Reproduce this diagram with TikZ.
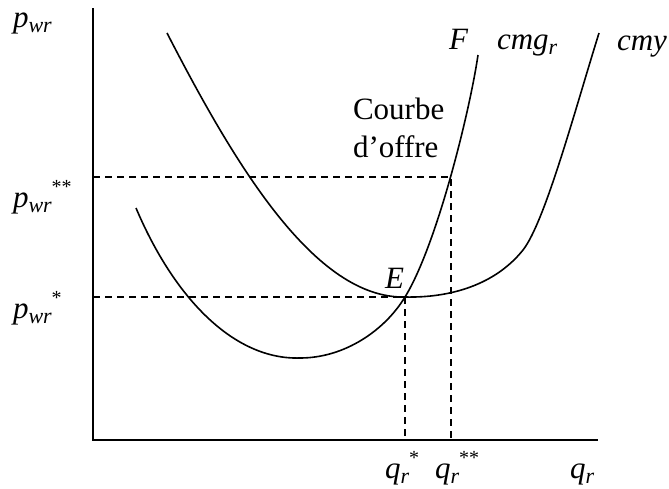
\documentclass[tikz,border=0pt]{standalone}
\usepackage{fontspec}
\setmainfont{Liberation Serif}
\newcommand\lsub[1]{\raisebox{-0.17em}{\fontsize{22}{22}\selectfont\itshape #1}}
\newcommand\lsup[1]{\raisebox{0.45em}{\fontsize{20}{20}\selectfont #1}}
\begin{document}
\begin{tikzpicture}[x=1pt,y=-1pt,
  every node/.style={inner sep=0pt,outer sep=0pt,font=\fontsize{31}{37}\selectfont},
  axisline/.style={line width=1.6pt},
  curveline/.style={line width=1.6pt},
  guide/.style={line width=1.5pt,dash pattern=on 7pt off 5pt}]
\useasboundingbox (0,0) rectangle (669,488);
% axes
\coordinate (O) at (93,440);
\coordinate (ytop) at (93,8);
\coordinate (xend) at (598,440);
\draw[axisline] (ytop) -- (O) -- (xend);
% key points
\coordinate (E) at (405,297);
\coordinate (Fp) at (451,177);
\coordinate (ps) at (93,297);
\coordinate (pss) at (93,177);
\coordinate (qs) at (405,440);
\coordinate (qss) at (451,440);
% guides
\draw[guide] (pss) -- (Fp) -- (qss);
\draw[guide] (ps) -- (E) -- (qs);
% cmg_r (supply curve above E)
\coordinate (cmgA) at (136,208);
\coordinate (cmgM) at (300,358);
\coordinate (cmgB) at (478,55);
\draw[curveline] (cmgA) .. controls (175,300) and (235,360) .. (cmgM)
  .. controls (345,358) and (385,330) .. (E)
  .. controls (437,245) and (470,110) .. (cmgB);
% cmy
\coordinate (cmyA) at (167,33);
\coordinate (cmyK) at (523,250);
\coordinate (cmyB) at (599,33);
\draw[curveline] (cmyA) .. controls (235,165) and (315,299) .. (E)
  .. controls (450,298) and (495,285) .. (cmyK)
  .. controls (545,222) and (575,110) .. (cmyB);
% labels
\node[anchor=base west] (lp) at (13,27) {\textit{p}\lsub{wr}};
\node[anchor=base west] (lpss) at (13,207) {\textit{p}\lsub{wr}\lsup{**}};
\node[anchor=base west] (lps) at (13,318) {\textit{p}\lsub{wr}\lsup{*}};
\node[anchor=base west] (lqs) at (385,478) {\textit{q}\lsub{r}\lsup{*}};
\node[anchor=base west] (lqss) at (435,478) {\textit{q}\lsub{r}\lsup{**}};
\node[anchor=base west] (lq) at (570,478) {\textit{q}\lsub{r}};
\node[anchor=base west] (lE) at (385,288) {\textit{E}};
\node[anchor=base west] (lF) at (449,49) {\textit{F}};
\node[anchor=base west] (lcmg) at (497,49) {\textit{cmg}\lsub{r}};
\node[anchor=base west] (lcmy) at (617,50) {\textit{cmy}};
\node[anchor=base west] (lc1) at (353,119) {Courbe};
\node[anchor=base west] (lc2) at (353,157) {d’offre};
\end{tikzpicture}
\end{document}
